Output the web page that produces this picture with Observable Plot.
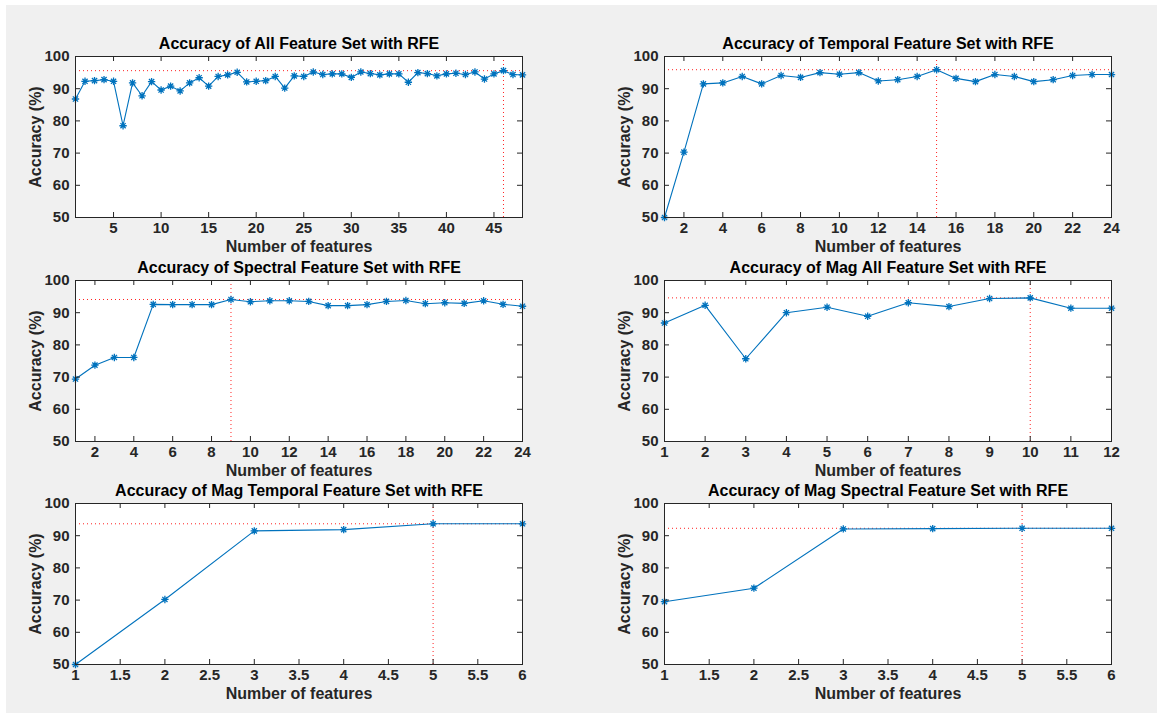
<!DOCTYPE html>
<html>
<head>
<meta charset="utf-8">
<script src="https://cdn.jsdelivr.net/npm/d3@7"></script>
<script src="https://cdn.jsdelivr.net/npm/@observablehq/plot@0.6"></script>
<style>
  html, body { margin: 0; padding: 0; background: #ffffff; }
  #page { position: relative; width: 1157px; height: 713px; overflow: hidden; }
  #bg { position: absolute; left: 6px; top: 5px; right: 0; bottom: 0; background: #f0f0f0; }
  .panel { position: absolute; }
</style>
</head>
<body>
<div id="page"><div id="bg"></div></div>
<script>
// ---------- data ----------
const titles = [
  "Accuracy of All Feature Set with RFE",
  "Accuracy of Temporal Feature Set with RFE",
  "Accuracy of Spectral Feature Set with RFE",
  "Accuracy of Mag All Feature Set with RFE",
  "Accuracy of Mag Temporal Feature Set with RFE",
  "Accuracy of Mag Spectral Feature Set with RFE"
];
const allFeatureAcc = [86.8, 92.3, 92.5, 92.8, 92.3, 78.5, 91.8, 87.8, 92.2, 89.6,
  90.8, 89.3, 91.8, 93.4, 90.8, 93.8, 94.3, 95.1, 92.1, 92.3,
  92.5, 93.8, 90.2, 94.0, 93.8, 95.2, 94.4, 94.6, 94.6, 93.5,
  95.2, 94.7, 94.3, 94.6, 94.6, 92.0, 95.0, 94.7, 94.0, 94.6,
  94.8, 94.4, 95.2, 93.0, 94.6, 95.6, 94.4, 94.3];
const temporalAcc = [50.0, 70.3, 91.5, 91.8, 93.8, 91.5, 94.1, 93.5, 95.0, 94.5,
  95.0, 92.4, 92.8, 93.8, 95.9, 93.2, 92.2, 94.4, 93.8, 92.2,
  92.8, 94.1, 94.4, 94.4];
const spectralAcc = [69.4, 73.7, 76.1, 76.1, 92.6, 92.5, 92.5, 92.5, 94.1, 93.4,
  93.7, 93.7, 93.5, 92.2, 92.2, 92.5, 93.5, 93.8, 92.8, 93.1,
  92.9, 93.7, 92.6, 92.0];
const magAllAcc = [86.8, 92.3, 75.7, 90.0, 91.7, 88.9, 93.1, 91.9, 94.4, 94.6, 91.4, 91.4];
const magTemporalAcc = [50.0, 70.2, 91.5, 91.9, 93.7, 93.7];
const magSpectralAcc = [69.5, 73.7, 92.1, 92.2, 92.3, 92.3];

const xTicksAll = [5, 10, 15, 20, 25, 30, 35, 40, 45];
const xTicks24 = [2, 4, 6, 8, 10, 12, 14, 16, 18, 20, 22, 24];
const xTicks12 = [1, 2, 3, 4, 5, 6, 7, 8, 9, 10, 11, 12];
const xTicks6 = [1, 1.5, 2, 2.5, 3, 3.5, 4, 4.5, 5, 5.5, 6];
const yTicks = [50, 60, 70, 80, 90, 100];

const xLabel = "Number of features";
const yLabel = "Accuracy (%)";

// ---------- layout ----------
const series = [allFeatureAcc, temporalAcc, spectralAcc, magAllAcc, magTemporalAcc, magSpectralAcc];
const xTickSets = [xTicksAll, xTicks24, xTicks24, xTicks12, xTicks6, xTicks6];
const colLeft = [5, 594];
const rowTop = [26, 250, 473];

const W = 560, H = 236, ML = 70, MR = 43, MT = 30, MB = 45;
const PW = W - ML - MR, PH = H - MT - MB;

const star = {
  draw(ctx, size) {
    const r = Math.sqrt(size / Math.PI) * 1.15;
    const d = r * Math.SQRT1_2;
    ctx.moveTo(-r, 0); ctx.lineTo(r, 0);
    ctx.moveTo(0, -r); ctx.lineTo(0, r);
    ctx.moveTo(-d, -d); ctx.lineTo(d, d);
    ctx.moveTo(-d, d); ctx.lineTo(d, -d);
  }
};

const blue = "#0072BD";
const axisColor = "#262626";
const red = "#ff2020";

series.forEach((vals, i) => {
  const data = vals.map((v, k) => ({n: k + 1, acc: v}));
  const best = data.reduce((a, b) => (b.acc > a.acc ? b : a));
  const xt = xTickSets[i];
  const chart = Plot.plot({
    width: W, height: H,
    marginLeft: ML, marginRight: MR, marginTop: MT, marginBottom: MB,
    style: {background: "transparent", fontFamily: "Liberation Sans, Arial, sans-serif", fontSize: "15px", fontWeight: "bold", color: axisColor},
    x: {domain: [1, data.length], ticks: xt, tickFormat: d => String(d)},
    y: {domain: [50, 100], ticks: yTicks},
    marks: [
      Plot.frame({fill: "white"}),
      Plot.ruleY([best.acc], {stroke: red, strokeWidth: 1, strokeDasharray: "1,3"}),
      Plot.ruleX([best.n], {stroke: red, strokeWidth: 1, strokeDasharray: "1,3"}),
      Plot.line(data, {x: "n", y: "acc", stroke: blue, strokeWidth: 1.1}),
      Plot.dot(data, {x: "n", y: "acc", symbol: star, r: 3.2, stroke: blue, strokeWidth: 1.3}),
      Plot.tickX(xt, {x: d => d, stroke: axisColor, insetTop: PH - 5}),
      Plot.tickX(xt, {x: d => d, stroke: axisColor, insetBottom: PH - 5}),
      Plot.tickY(yTicks, {y: d => d, stroke: axisColor, insetRight: PW - 5}),
      Plot.tickY(yTicks, {y: d => d, stroke: axisColor, insetLeft: PW - 5}),
      Plot.frame({stroke: axisColor, strokeWidth: 1}),
      Plot.axisX({ticks: xt, tickSize: 0, tickPadding: 5, tickFormat: d => String(d), label: null, fill: axisColor, fontSize: 15}),
      Plot.axisY({ticks: yTicks, tickSize: 0, tickPadding: 6, label: null, fill: axisColor, fontSize: 15}),
      Plot.text([titles[i]], {frameAnchor: "top", dy: -13, lineAnchor: "middle", textAnchor: "middle", fontSize: 16, fontWeight: "bold", fill: "#000"}),
      Plot.text([xLabel], {frameAnchor: "bottom", dy: 29, lineAnchor: "middle", textAnchor: "middle", fontSize: 16, fontWeight: "bold", fill: axisColor}),
      Plot.text([yLabel], {frameAnchor: "left", dx: -40, rotate: -90, lineAnchor: "middle", textAnchor: "middle", fontSize: 16, fontWeight: "bold", fill: axisColor})
    ]
  });
  const wrap = document.createElement("div");
  wrap.className = "panel";
  wrap.style.left = colLeft[i % 2] + "px";
  wrap.style.top = rowTop[Math.floor(i / 2)] + "px";
  wrap.appendChild(chart);
  document.getElementById("page").appendChild(wrap);
});
</script>
</body>
</html>
